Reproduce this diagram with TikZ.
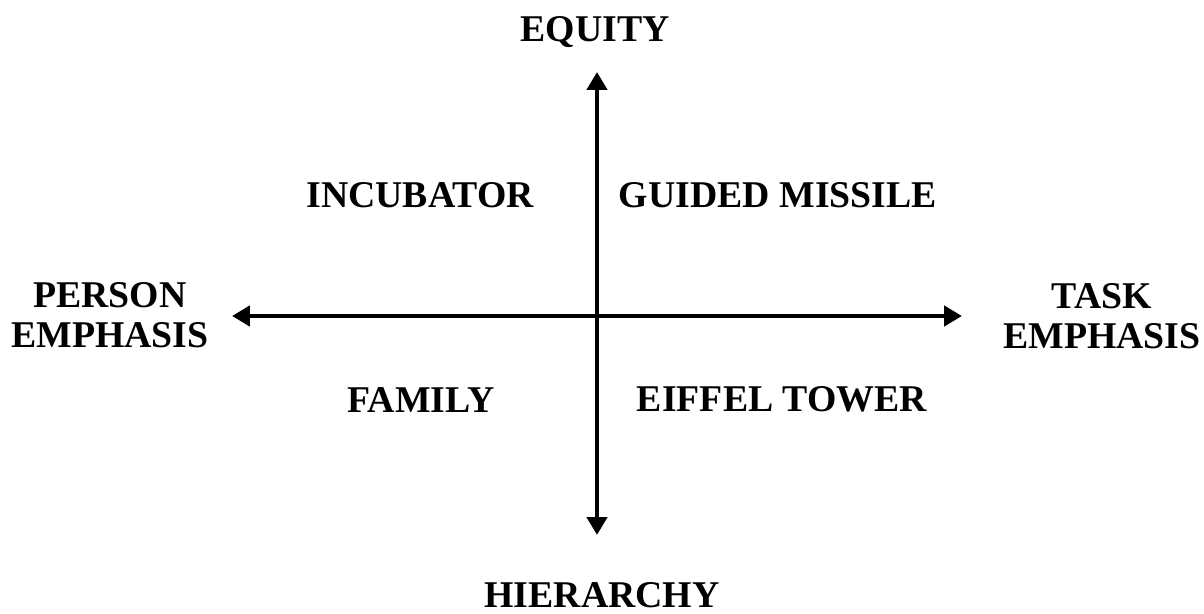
\documentclass[tikz,border=0pt]{standalone}
\usetikzlibrary{arrows.meta, positioning}
\usepackage{xcolor}
\usepackage{fontspec}
\setmainfont{Liberation Serif}
\def\axiswidth{0.095cm}

\begin{document}
\begin{tikzpicture}[x=0.02cm, y=-0.02cm, line width=\axiswidth]
    \tikzstyle{axis}=[draw=black, {Triangle[length=0.36cm,width=0.4cm]}-{Triangle[length=0.36cm,width=0.4cm]}]
    \tikzstyle{label}=[inner sep=0pt, font=\fontsize{21.5}{22.7}\selectfont\bfseries, align=center]
    \tikzstyle{pole}=[label, anchor=base];
    \tikzstyle{quadrant}=[label, anchor=base];
    \tikzstyle{side}=[label, anchor=center];

    \useasboundingbox (0,0) rectangle (1204,614);

    % Axis end points
    \coordinate (top) at (597,72);
    \coordinate (bottom) at (597,535);
    \coordinate (left) at (232,316);
    \coordinate (right) at (962,316);

    % Draw the two axes
    \draw[axis] (bottom) -- (top);
    \draw[axis] (left) -- (right);

    % Label the ends of the axes
    \node[pole] (equity) at (595,41.5) {EQUITY};
    \node[pole] (hierarchy) at (602,608) {HIERARCHY};
    \node[side] (person) at (110,315.5) {PERSON\\EMPHASIS};
    \node[side] (task) at (1102,316.5) {TASK\\EMPHASIS};

    % Name the four quadrants
    \node[quadrant] (incubator) at (420,208) {INCUBATOR};
    \node[quadrant] (missile) at (778,208) {GUIDED MISSILE};
    \node[quadrant] (family) at (421,413) {FAMILY};
    \node[quadrant] (eiffel) at (782,412) {EIFFEL TOWER};
\end{tikzpicture}
\end{document}
